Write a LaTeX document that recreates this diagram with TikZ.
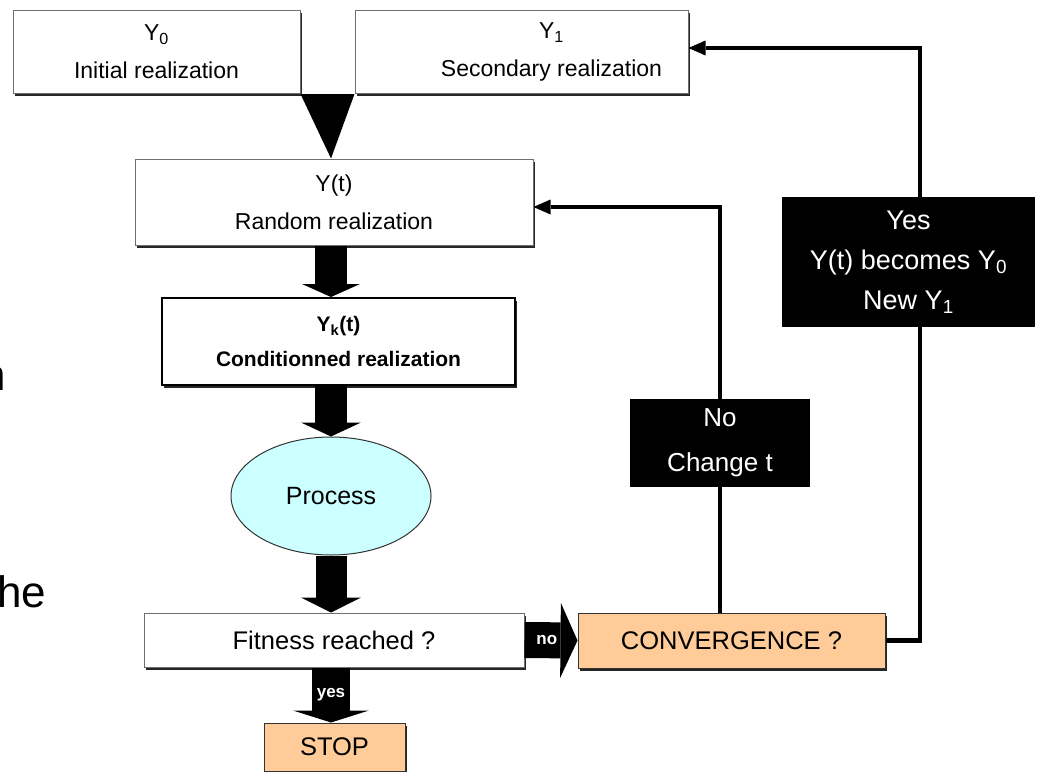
\documentclass[tikz,border=0pt]{standalone}
\usepackage{fontspec}
\setmainfont{Liberation Sans}
\usepackage{tikz}
\usetikzlibrary{shapes.geometric, arrows.meta, shadows, calc}
\definecolor{peach}{RGB}{255, 204, 153}
\definecolor{palecyan}{RGB}{204, 255, 255}
\definecolor{edgegray}{RGB}{110, 110, 110}

\begin{document}
\begin{tikzpicture}[x=1pt, y=-1pt,
  bx/.style={rectangle, draw=edgegray, line width=1pt, fill=white,
    inner sep=0pt, align=center,
    drop shadow={shadow xshift=1.5pt, shadow yshift=-2.5pt,
      fill=black!85, opacity=1}},
  blk/.style={rectangle, fill=black, text=white, inner sep=0pt, align=center},
  fat/.style args={#1/#2/#3}{line width=#1,
    -{Triangle[length=#3, width=#2, line width=0pt]}},
  wire/.style={line width=4.5pt},
  wirearr/.style={wire, -{Triangle[length=17pt, width=15pt, line width=0pt]}},
  wlbl/.style={text=white, font=\fontsize{17}{20}\selectfont\bfseries, inner sep=0pt}
]
\useasboundingbox (0,0) rectangle (1041,771);
\clip (0,0) rectangle (1041,771);

% slide text cut off at the left
\node[anchor=base east, inner sep=0pt, font=\fontsize{44}{50}\selectfont]
  at (6, 390) (fragn) {n};
\node[anchor=base west, inner sep=0pt, font=\fontsize{44}{50}\selectfont]
  at (-3, 607) (fraghe) {he};

% boxes
\node[bx, minimum width=287pt, minimum height=83pt,
      font=\fontsize{23}{38}\selectfont]
  at (156.5, 52) (y0) {Y\textsubscript{0}\\Initial realization};
\node[bx, minimum width=333pt, minimum height=83pt,
      label={[xshift=30pt, align=center, font=\fontsize{23}{38}\selectfont]center:Y\textsubscript{1}\\Secondary realization}]
  at (521.5, 52) (y1) {};
\node[bx, minimum width=398pt, minimum height=86pt,
      font=\fontsize{23}{38}\selectfont]
  at (334, 202) (yt) {Y(t)\\Random realization};
\node[bx, draw=black, line width=2pt, minimum width=353pt, minimum height=87pt,
      font=\fontsize{21}{35}\selectfont\bfseries]
  at (338.5, 341.5) (yk) {Y\textsubscript{k}(t)\\Conditionned realization};
\node[ellipse, draw=black!80, line width=1pt, fill=palecyan,
      minimum width=200pt, minimum height=118pt, inner sep=0pt,
      font=\fontsize{25}{30}\selectfont]
  at (331, 496) (proc) {Process};
\node[bx, minimum width=380pt, minimum height=54pt,
      font=\fontsize{25.5}{30}\selectfont]
  at (334, 640) (fit) {Fitness reached ?};
\node[bx, draw=black!80, fill=peach, minimum width=141pt, minimum height=48pt,
      font=\fontsize{25.5}{30}\selectfont]
  at (334.5, 747) (stop) {STOP};
\node[bx, draw=black!80, fill=peach, minimum width=307pt, minimum height=55pt,
      font=\fontsize{25.5}{30}\selectfont]
  at (731.5, 640.5) (conv) {CONVERGENCE ?};
\node[blk, minimum width=180pt, minimum height=88pt,
      font=\fontsize{26}{45}\selectfont]
  at (720, 443) (nobox) {No\\Change t};
\node[blk, minimum width=253pt, minimum height=130pt,
      font=\fontsize{27}{40}\selectfont]
  at (908.5, 262) (yesbox) {Yes\\Y(t) becomes Y\textsubscript{0}\\New Y\textsubscript{1}};

\coordinate (axis) at (331, 0);
\coordinate (rx) at (920, 640.5);

% main flow
\fill (y0.south east) -- (y1.south west) -- (axis |- yt.north) -- cycle;
\draw[fat=32pt/58pt/13pt] (axis |- yt.south) -- (axis |- yk.north);
\draw[fat=32pt/60pt/14pt] (axis |- yk.south) -- (proc.north);
\draw[fat=31pt/60pt/15pt] (proc.south) -- (axis |- fit.north);
\draw[fat=38pt/76pt/12pt] (axis |- fit.south) -- node[wlbl] {yes} (axis |- stop.north);
\draw[fat=36pt/75pt/17pt] (fit.east) -- node[wlbl, pos=0.42] {no} (conv.west);

% feedback loops
\draw[wire] (conv.north -| nobox.south) -- (nobox.south);
\draw[wirearr] (nobox.north) |- ([yshift=-5pt]yt.east);
\draw[wire] (conv.east) -- (rx) -- (rx |- yesbox.south);
\draw[wirearr] (rx |- yesbox.north) |- ([yshift=4pt]y1.east);
\end{tikzpicture}
\end{document}
